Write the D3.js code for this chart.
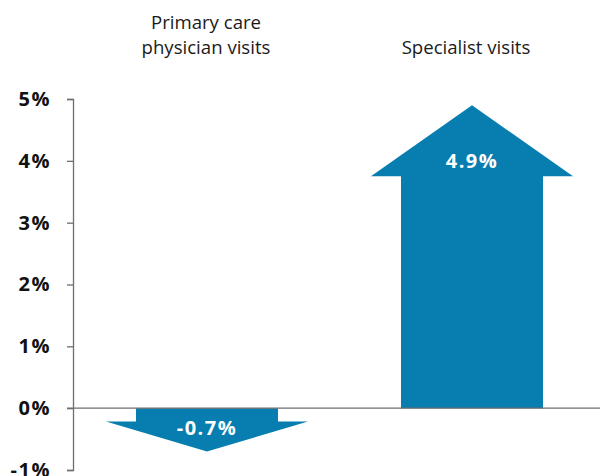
<!DOCTYPE html>
<html>
<head>
<meta charset="utf-8">
<script src="https://cdn.jsdelivr.net/npm/d3@7"></script>
<style>
  html, body { margin: 0; padding: 0; background: #fff; }
  svg { display: block; font-family: "Open Sans", "Noto Sans", sans-serif; }
</style>
</head>
<body>
<svg id="chart" width="600" height="476"></svg>
<script>
// ---- data ----
const categories = ["Primary care\nphysician visits", "Specialist visits"];
const values = [-0.7, 4.9];
const valueLabels = ["-0.7%", "4.9%"];
const tickValues = [-1, 0, 1, 2, 3, 4, 5];
const tickLabels = ["-1%", "0%", "1%", "2%", "3%", "4%", "5%"];

// ---- styles (not data) ----
const headLengths = [30, 71];
const headExt = 30;
const labelBaselines = [27, -8]; // offset for value label
const catLabelDx = [-1, -6];
const blue = "#077db0";

const W = 600, H = 476;
const svg = d3.select("#chart");

const y = d3.scaleLinear().domain([-1, 5]).range([470, 99]);
const x = d3.scaleBand().domain(categories).range([79, 600])
  .paddingInner(0.464).paddingOuter(0.215);

// arrows
categories.forEach((c, i) => {
  const v = values[i];
  const x0 = x(c), x1 = x(c) + x.bandwidth(), cx = x(c) + x.bandwidth() / 2;
  const y0 = y(0), yt = y(v);
  const hb = v >= 0 ? yt + headLengths[i] : yt - headLengths[i];
  const pts = [[x0, y0], [x0, hb], [x0 - headExt, hb], [cx, yt],
               [x1 + headExt, hb], [x1, hb], [x1, y0]];
  svg.append("path")
    .attr("d", d3.line()(pts) + "Z")
    .attr("fill", blue);
  const ly = v >= 0 ? hb + labelBaselines[i] : y0 + labelBaselines[i];
  svg.append("text")
    .attr("x", cx).attr("y", ly)
    .attr("text-anchor", "middle")
    .attr("fill", "#fff")
    .attr("font-weight", "bold")
    .attr("font-size", 20)
    .attr("letter-spacing", 1.5)
    .text(valueLabels[i]);
});

// axis
const axis = d3.axisLeft(y).tickValues(tickValues)
  .tickFormat((d, i) => tickLabels[i]).tickSize(6).tickPadding(16);
const ag = svg.append("g").attr("transform", "translate(73,0)").call(axis);
ag.selectAll("path, line").attr("stroke", "#6e6e6e").attr("stroke-width", 1.3);
ag.selectAll("text").attr("font-size", 20).attr("font-weight", "bold")
  .attr("letter-spacing", 1.5)
  .attr("fill", "#111").attr("font-family", "'Open Sans', sans-serif");

// zero line
svg.append("line")
  .attr("x1", 67).attr("x2", 600)
  .attr("y1", y(0)).attr("y2", y(0))
  .attr("stroke", "#6e6e6e").attr("stroke-width", 1.3);

// category labels
categories.forEach((c, i) => {
  const lines = c.split("\n");
  const cx = x(c) + x.bandwidth() / 2 + catLabelDx[i];
  const t = svg.append("text")
    .attr("text-anchor", "middle")
    .attr("font-size", 18.6)
    .attr("fill", "#1a1a1a");
  lines.forEach((ln, j) => {
    t.append("tspan").attr("x", cx)
      .attr("y", 54 - (lines.length - 1 - j) * 25)
      .text(ln);
  });
});
</script>
</body>
</html>
